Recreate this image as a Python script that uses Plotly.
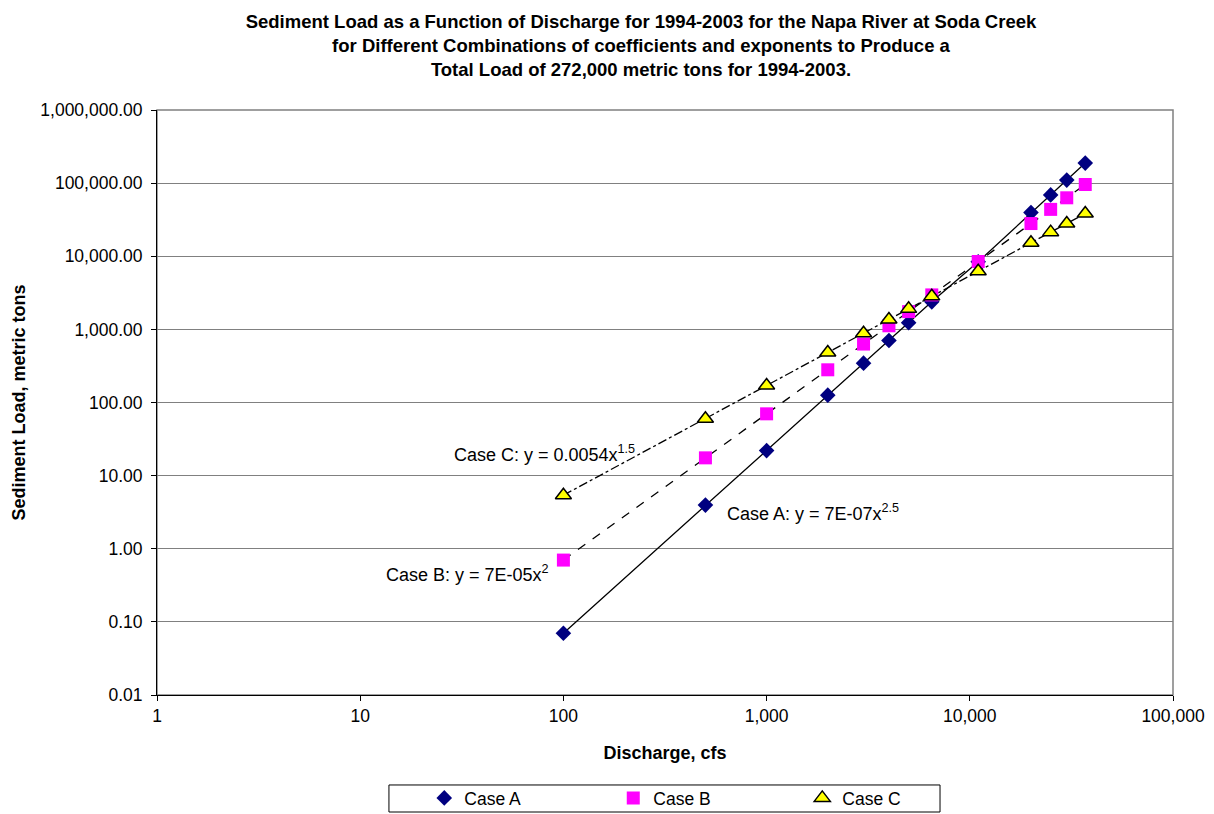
import plotly.graph_objects as go

discharge = [100, 500, 1000, 2000, 3000, 4000, 5000, 6500, 11000, 20000, 25000, 30000, 37000]
case_a = [0.07, 3.95, 22, 126, 345, 705, 1235, 2380, 8400, 39500, 69000, 110000, 188000]
case_b = [0.7, 17.5, 70, 280, 630, 1120, 1750, 2960, 8470, 28000, 43750, 63000, 95800]
case_c = [5.4, 60, 171, 483, 887, 1366, 1909, 2830, 6230, 15270, 21350, 28060, 38430]

x_tickvals = [1, 10, 100, 1000, 10000, 100000]
x_ticktext = ["1", "10", "100", "1,000", "10,000", "100,000"]
y_tickvals = [0.01, 0.1, 1, 10, 100, 1000, 10000, 100000, 1000000]
y_ticktext = ["0.01", "0.10", "1.00", "10.00", "100.00", "1,000.00", "10,000.00",
              "100,000.00", "1,000,000.00"]

FONT = "Liberation Sans, Arial, sans-serif"

fig = go.Figure()

series = [
    ("Case A", case_a, "solid", dict(symbol="diamond", color="#000080", size=12,
                                      line=dict(color="#000080", width=0))),
    ("Case B", case_b, "dash", dict(symbol="square", color="#FF00FF", size=13,
                                     line=dict(color="#FF00FF", width=0))),
    ("Case C", case_c, "dashdot", dict(symbol="triangle-up", color="#FFFF00", size=14,
                                        line=dict(color="#000000", width=1.5))),
]

for name, vals, dash, mk in series:
    fig.add_trace(go.Scatter(x=discharge, y=vals, mode="lines",
                             line=dict(color="black", width=1.3, dash=dash),
                             showlegend=False, hoverinfo="skip"))
for name, vals, dash, mk in series:
    fig.add_trace(go.Scatter(x=discharge, y=vals, mode="markers", name=name,
                             marker=mk))

fig.update_layout(
    width=1214, height=814,
    paper_bgcolor="white", plot_bgcolor="white",
    margin=dict(l=157, r=41, t=110, b=119),
    font=dict(family=FONT, size=17, color="black"),
    title=dict(
        text="<b>Sediment Load as a Function of Discharge for 1994-2003 for the Napa River at Soda Creek<br>"
             "for Different Combinations of coefficients and exponents to Produce a<br>"
             "Total Load of 272,000 metric tons for 1994-2003.</b>",
        x=0.528, xanchor="center", y=1 - 28 / 814, yanchor="top",
        font=dict(family=FONT, size=18.5, color="black"),
    ),
    xaxis=dict(
        type="log", range=[0, 5], automargin=False,
        tickvals=x_tickvals, ticktext=x_ticktext,
        showgrid=False, zeroline=False,
        showline=True, linecolor="black", linewidth=1,
        ticks="outside", ticklen=5, tickcolor="black",
        tickfont=dict(size=17.5),
        title=dict(text="<b>Discharge, cfs</b>", font=dict(size=18), standoff=21),
    ),
    yaxis=dict(
        type="log", range=[-2, 6], automargin=False,
        tickvals=y_tickvals, ticktext=y_ticktext,
        showgrid=True, gridcolor="#808080", gridwidth=1,
        zeroline=False,
        showline=True, linecolor="black", linewidth=1,
        ticks="outside", ticklen=5, tickcolor="black", ticklabelstandoff=5,
        tickfont=dict(size=17.5),
        title=dict(text="<b>Sediment Load, metric tons</b>", font=dict(size=18), standoff=10),
    ),
    legend=dict(
        orientation="h", xref="container", yref="container",
        x=0.583, xanchor="center", y=1 - 798 / 814, yanchor="middle",
        borderwidth=0, bgcolor="rgba(0,0,0,0)",
        font=dict(size=17.5), entrywidth=144, entrywidthmode="pixels",
        itemsizing="trace",
    ),
    showlegend=True,
)

# plot area frame
fig.add_shape(type="rect", xref="paper", yref="paper", x0=0, x1=1, y0=0, y1=1,
              line=dict(color="#808080", width=1.5), layer="below")
# legend frame (paper coords of the box below the plot)
fig.add_shape(type="rect", xref="paper", yref="paper", x0=0.2283, x1=0.7707,
              y0=-0.2, y1=-0.1538, line=dict(color="black", width=1),
              fillcolor="white", layer="below")

ann_font = dict(family=FONT, size=18, color="black")
fig.add_annotation(x=1.909, y=1.309, xref="x", yref="y", showarrow=False,
                   text="Case C: y = 0.0054x<sup>1.5</sup>", font=ann_font)
fig.add_annotation(x=3.228, y=0.489, xref="x", yref="y", showarrow=False,
                   text="Case A: y = 7E-07x<sup>2.5</sup>", font=ann_font)
fig.add_annotation(x=1.530, y=-0.332, xref="x", yref="y", showarrow=False,
                   text="Case B: y = 7E-05x<sup>2</sup>", font=ann_font)

fig.write_html("out.html", config={"displayModeBar": False},
               post_script="document.body.style.margin='0';")
